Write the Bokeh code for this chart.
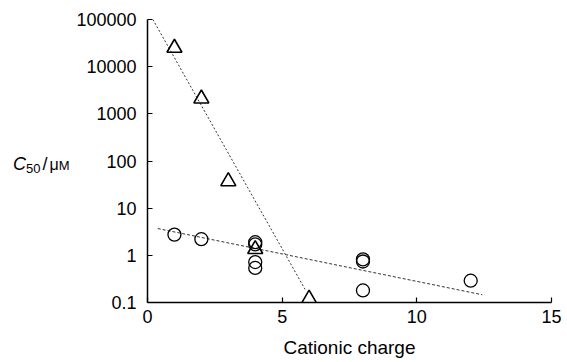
from bokeh.plotting import figure
from bokeh.models import Range1d, FixedTicker, Div
from bokeh.layouts import row
from bokeh.embed import file_html
from bokeh.resources import INLINE

# ---- data ----
tri_charge = [1, 2, 3, 4, 6]
tri_c50 = [25000, 2100, 37, 1.35, 0.12]
circ_charge = [1, 2, 4, 4, 4, 4, 8, 8, 8, 12]
circ_c50 = [2.75, 2.2, 1.9, 1.7, 0.72, 0.54, 0.82, 0.74, 0.18, 0.29]
tri_fit_x = [0.2, 5.85]
tri_fit_y = [100000, 0.19]
circ_fit_x = [0.38, 12.43]
circ_fit_y = [3.7, 0.146]
x_ticks = [0, 5, 10, 15]
y_ticks = [0.1, 1, 10, 100, 1000, 10000, 100000]
y_tick_labels = ["0.1", "1", "10", "100", "1000", "10000", "100000"]
x_label = "Cationic charge"

FONT = "Liberation Sans"
LEFT_W = 70

p = figure(width=567 - LEFT_W, height=362, output_backend="svg", toolbar_location=None,
           x_range=Range1d(0, 15), y_range=Range1d(0.1, 100000), y_axis_type="log",
           min_border_left=147 - LEFT_W, min_border_right=16, min_border_top=19,
           min_border_bottom=60)
p.outline_line_color = None
p.grid.visible = False
p.background_fill_color = "white"

# fit lines
p.line(tri_fit_x, tri_fit_y, line_color="#333333", line_width=1, line_dash="2 2")
p.line(circ_fit_x, circ_fit_y, line_color="#333333", line_width=1, line_dash="3 2")

# markers
p.scatter(circ_charge, circ_c50, marker="circle", size=13, fill_color=None,
          line_color="black", line_width=1.3)
p.scatter(tri_charge, tri_c50, marker="triangle", size=15, fill_color=None,
          line_color="black", line_width=1.6)

for ax in (p.xaxis[0], p.yaxis[0]):
    ax.axis_line_color = "black"
    ax.axis_line_width = 1.5
    ax.major_tick_in = 5
    ax.major_tick_out = 0
    ax.major_tick_line_color = "black"
    ax.major_tick_line_width = 1.2
    ax.minor_tick_line_color = None
    ax.major_label_text_font = FONT
    ax.major_label_text_font_size = "18px"
    ax.major_label_text_color = "black"

p.xaxis[0].ticker = FixedTicker(ticks=x_ticks)
p.xaxis[0].major_label_standoff = 7
p.xaxis[0].axis_label = x_label
p.xaxis[0].axis_label_text_font = FONT
p.xaxis[0].axis_label_text_font_size = "19px"
p.xaxis[0].axis_label_text_font_style = "normal"
p.xaxis[0].axis_label_text_color = "black"
p.xaxis[0].axis_label_standoff = 11
p.yaxis[0].ticker = FixedTicker(ticks=y_ticks)
p.yaxis[0].major_label_overrides = {t: s for t, s in zip(y_ticks, y_tick_labels)}
p.yaxis[0].major_label_standoff = 11

ylab = Div(
    text=('<span style="font-style:italic;font-size:18px">C</span>'
          '<sub style="font-size:13px;vertical-align:-3px">50</sub>'
          '<span style="font-size:18px;margin:0 2px">/</span>'
          '<span style="font-size:16px">\u03bc</span>'
          '<span style="font-size:13px">M</span>'),
    width=LEFT_W, height=362, margin=0,
    styles={"font-family": FONT, "color": "black", "padding-top": "154px",
            "padding-left": "13px", "line-height": "20px", "white-space": "nowrap"})

layout = row(ylab, p, spacing=0)
open("out.html", "w").write(file_html(layout, INLINE))
